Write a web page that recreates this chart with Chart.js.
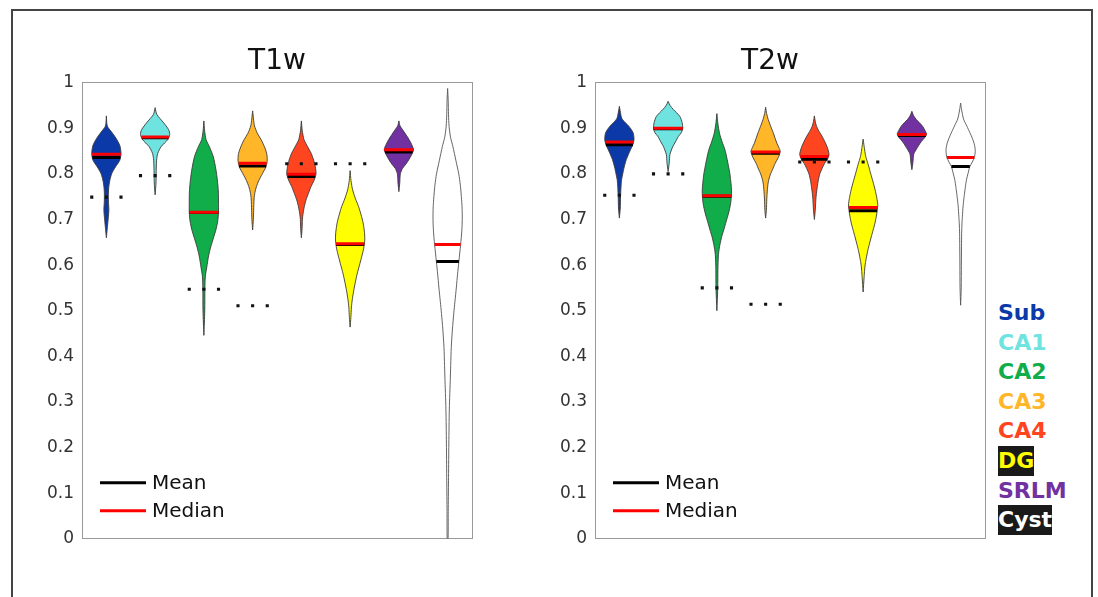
<!DOCTYPE html>
<html>
<head>
<meta charset="utf-8">
<script src="https://cdn.jsdelivr.net/npm/chart.js@4.4.1/dist/chart.umd.min.js"></script>
<style>
html, body { margin: 0; padding: 0; background: #fff; }
body { width: 1098px; height: 597px; position: relative; overflow: hidden; font-family: "DejaVu Sans", sans-serif; }
#frame { position: absolute; left: 11px; top: 9px; width: 1078px; height: 640px; border: 2px solid #444; border-bottom: none; }
.panel { position: absolute; top: 20px; width: 440px; height: 537px; }
#p1 { left: 42px; }
#p2 { left: 555px; }
#groups { position: absolute; left: 998px; top: 298px; font: bold 22px "DejaVu Sans", sans-serif; }
#groups div { height: 29.6px; line-height: 30px; white-space: nowrap; }
#groups span.box { background: #1a1a1a; display: inline-block; height: 30px; }
</style>
</head>
<body>
<div id="frame"></div>
<div class="panel" id="p1"><canvas id="c1"></canvas></div>
<div class="panel" id="p2"><canvas id="c2"></canvas></div>
<div id="groups"></div>
<script>
// Violin plots of per-subfield scores, T1w vs T2w.

const categories = ['Sub', 'CA1', 'CA2', 'CA3', 'CA4', 'DG', 'SRLM', 'Cyst'];
const yTickLabels = ['0', '0.1', '0.2', '0.3', '0.4', '0.5', '0.6', '0.7', '0.8', '0.9', '1'];
const legendNames = ['Mean', 'Median'];

// mean / median / reference (dotted) per category
const t1Mean   = [0.836, 0.879, 0.715, 0.817, 0.794, 0.645, 0.848, 0.608];
const t1Median = [0.843, 0.881, 0.716, 0.823, 0.799, 0.647, 0.853, 0.645];
const t1Ref    = [0.749, 0.796, 0.547, 0.511, 0.822, 0.822, null, null];
const t2Mean   = [0.864, 0.899, 0.751, 0.845, 0.832, 0.719, 0.884, 0.816];
const t2Median = [0.870, 0.900, 0.752, 0.848, 0.838, 0.726, 0.886, 0.836];
const t2Ref    = [0.753, 0.800, 0.550, 0.514, 0.826, 0.826, null, null];

// violin outlines: [value, relative half-width]
const t1Sub  = [[0.927,0],[0.905,0.06],[0.892,0.35],[0.878,0.66],[0.862,0.92],[0.845,1],[0.83,0.92],[0.815,0.62],[0.80,0.36],[0.78,0.2],[0.76,0.14],[0.74,0.14],[0.72,0.17],[0.70,0.12],[0.68,0.06],[0.66,0]];
const t1CA1  = [[0.945,0],[0.93,0.12],[0.912,0.58],[0.897,0.92],[0.886,1],[0.875,0.86],[0.86,0.42],[0.845,0.18],[0.83,0.1],[0.80,0.07],[0.78,0.06],[0.754,0]];
const t1CA2  = [[0.916,0],[0.895,0.05],[0.875,0.15],[0.86,0.37],[0.838,0.64],[0.81,0.82],[0.787,0.92],[0.76,0.99],[0.735,1],[0.716,1],[0.695,0.94],[0.677,0.82],[0.66,0.66],[0.64,0.47],[0.62,0.32],[0.596,0.2],[0.575,0.1],[0.55,0.07],[0.5,0.06],[0.446,0]];
const t1CA3  = [[0.938,0],[0.92,0.06],[0.905,0.13],[0.889,0.32],[0.875,0.58],[0.86,0.8],[0.845,0.96],[0.83,1],[0.815,0.91],[0.80,0.66],[0.785,0.42],[0.772,0.26],[0.76,0.16],[0.745,0.1],[0.72,0.07],[0.70,0.05],[0.677,0]];
const t1CA4  = [[0.916,0],[0.895,0.06],[0.875,0.18],[0.86,0.42],[0.845,0.67],[0.83,0.84],[0.816,0.95],[0.80,1],[0.786,0.87],[0.772,0.66],[0.757,0.48],[0.743,0.32],[0.728,0.2],[0.714,0.12],[0.70,0.07],[0.68,0.05],[0.66,0]];
const t1DG   = [[0.807,0],[0.785,0.06],[0.765,0.17],[0.745,0.37],[0.728,0.58],[0.71,0.75],[0.692,0.89],[0.672,0.98],[0.655,1],[0.637,0.93],[0.618,0.79],[0.60,0.64],[0.582,0.49],[0.563,0.36],[0.545,0.25],[0.525,0.15],[0.508,0.09],[0.485,0.05],[0.464,0]];
const t1SRLM = [[0.916,0],[0.905,0.08],[0.897,0.25],[0.886,0.48],[0.875,0.7],[0.864,0.88],[0.853,1],[0.842,0.87],[0.831,0.68],[0.82,0.45],[0.812,0.25],[0.80,0.1],[0.78,0.06],[0.761,0]];
const t1Cyst = [[0.987,0],[0.96,0.04],[0.93,0.06],[0.904,0.1],[0.88,0.2],[0.86,0.36],[0.83,0.56],[0.80,0.76],[0.775,0.87],[0.75,0.94],[0.725,0.99],[0.70,1],[0.675,0.97],[0.645,0.89],[0.608,0.77],[0.58,0.68],[0.552,0.6],[0.52,0.5],[0.494,0.42],[0.46,0.33],[0.42,0.25],[0.38,0.21],[0.347,0.18],[0.31,0.14],[0.274,0.11],[0.2,0.08],[0.127,0.06],[0.06,0.04],[0,0.03]];

const t2Sub  = [[0.948,0],[0.935,0.07],[0.922,0.16],[0.913,0.38],[0.904,0.66],[0.89,0.94],[0.875,1],[0.864,0.92],[0.853,0.76],[0.842,0.61],[0.831,0.47],[0.815,0.33],[0.80,0.23],[0.787,0.15],[0.77,0.11],[0.75,0.08],[0.725,0.06],[0.703,0]];
const t2CA1  = [[0.959,0],[0.95,0.13],[0.941,0.36],[0.926,0.8],[0.912,0.96],[0.90,1],[0.89,0.9],[0.882,0.7],[0.87,0.5],[0.86,0.32],[0.85,0.2],[0.842,0.12],[0.825,0.08],[0.805,0]];
const t2CA2  = [[0.932,0],[0.91,0.07],[0.889,0.18],[0.87,0.36],[0.853,0.55],[0.835,0.68],[0.816,0.8],[0.80,0.89],[0.787,0.94],[0.77,0.99],[0.757,1],[0.735,0.94],[0.714,0.8],[0.695,0.63],[0.677,0.47],[0.662,0.33],[0.648,0.23],[0.634,0.15],[0.62,0.1],[0.59,0.07],[0.55,0.06],[0.5,0]];
const t2CA3  = [[0.946,0],[0.932,0.07],[0.919,0.18],[0.904,0.35],[0.889,0.53],[0.877,0.66],[0.867,0.77],[0.858,0.9],[0.849,1],[0.836,0.87],[0.823,0.65],[0.81,0.48],[0.80,0.34],[0.79,0.24],[0.78,0.17],[0.765,0.12],[0.745,0.08],[0.72,0.05],[0.703,0]];
const t2CA4  = [[0.927,0],[0.915,0.06],[0.904,0.15],[0.893,0.32],[0.882,0.53],[0.87,0.72],[0.86,0.86],[0.85,0.96],[0.842,1],[0.832,0.89],[0.823,0.7],[0.812,0.53],[0.80,0.37],[0.786,0.27],[0.772,0.2],[0.757,0.14],[0.743,0.1],[0.72,0.06],[0.70,0]];
const t2DG   = [[0.876,0],[0.86,0.07],[0.838,0.18],[0.82,0.35],[0.80,0.52],[0.782,0.68],[0.765,0.82],[0.748,0.93],[0.732,1],[0.712,0.93],[0.692,0.81],[0.674,0.66],[0.655,0.5],[0.636,0.35],[0.618,0.23],[0.605,0.16],[0.596,0.12],[0.575,0.07],[0.541,0]];
const t2SRLM = [[0.937,0],[0.928,0.11],[0.919,0.3],[0.912,0.52],[0.904,0.74],[0.895,0.9],[0.887,1],[0.879,0.87],[0.871,0.65],[0.862,0.46],[0.853,0.29],[0.847,0.18],[0.842,0.12],[0.825,0.07],[0.809,0]];
const t2Cyst = [[0.955,0],[0.94,0.07],[0.92,0.2],[0.905,0.42],[0.889,0.65],[0.878,0.8],[0.867,0.92],[0.858,0.98],[0.849,1],[0.836,0.94],[0.826,0.8],[0.816,0.63],[0.80,0.5],[0.787,0.4],[0.77,0.32],[0.75,0.24],[0.73,0.17],[0.706,0.12],[0.69,0.09],[0.67,0.07],[0.64,0.06],[0.6,0.05],[0.55,0.04],[0.512,0]];

const fillColors = ['#0b3aa8', '#6ee3e0', '#10ad4a', '#ffb629', '#ff4420', '#ffff00', '#7131a1', '#ffffff'];
const textColors = ['#0b3aa8', '#6ee3e0', '#10ad4a', '#ffb629', '#ff4420', '#ffff00', '#7131a1', '#ffffff'];
const boxedLabels = ['DG', 'Cyst'];

const FONT = '"DejaVu Sans", sans-serif';
const HALF = 0.3; // max half-width of a violin, in category units

// half-width of a profile at value v (linear between read points)
function widthAt(profile, v) {
    for (let k = 0; k < profile.length - 1; k++) {
        const [y0, w0] = profile[k], [y1, w1] = profile[k + 1];
        if (v <= y0 && v >= y1) {
            const t = (y0 - v) / (y0 - y1 || 1);
            return w0 + (w1 - w0) * t;
        }
    }
    return 0;
}

function buildDatasets(shapes, means, medians, refs) {
    const sets = [];
    shapes.forEach((p, i) => {
        const right = p.map(([y, w]) => ({ x: i + w * HALF, y }));
        const left = p.slice().reverse().map(([y, w]) => ({ x: i - w * HALF, y }));
        sets.push({
            label: categories[i],
            data: right.concat(left),
            showLine: true,
            fill: 'shape',
            backgroundColor: fillColors[i],
            borderColor: i === 7 ? '#555' : '#3a3a3a',
            borderWidth: 0.9,
            pointRadius: 0,
            tension: 0.25,
            order: 3,
        });
    });
    [[means, '#000000', 2], [medians, '#ff0000', 1]].forEach(([vals, col, ord]) => {
        vals.forEach((v, i) => {
            const w = widthAt(shapes[i], v) * HALF;
            sets.push({
                data: [{ x: i - w, y: v }, { x: i + w, y: v }],
                showLine: true,
                borderColor: col,
                borderWidth: 3,
                pointRadius: 0,
                order: ord,
            });
        });
    });
    const dots = [];
    refs.forEach((r, i) => {
        if (r === null) return;
        [-HALF, 0, HALF].forEach(dx => dots.push({ x: i + dx, y: r }));
    });
    sets.push({
        data: dots,
        pointStyle: 'rect',
        pointRadius: 2.2,
        pointBorderWidth: 0,
        backgroundColor: '#111',
        borderColor: '#111',
        order: 0,
    });
    return sets;
}

const statLegend = {
    id: 'statLegend',
    afterDraw(chart) {
        const { ctx, chartArea } = chart;
        const cols = ['#000000', '#ff0000'];
        ctx.save();
        legendNames.forEach((name, k) => {
            const y = chartArea.bottom - 56 + k * 28;
            ctx.strokeStyle = cols[k];
            ctx.lineWidth = 3;
            ctx.beginPath();
            ctx.moveTo(chartArea.left + 18, y);
            ctx.lineTo(chartArea.left + 64, y);
            ctx.stroke();
            ctx.fillStyle = '#111';
            ctx.font = '20px ' + FONT;
            ctx.textBaseline = 'middle';
            ctx.fillText(name, chartArea.left + 70, y + 1);
        });
        ctx.restore();
    },
};

function edgeAxis(position, horizontal) {
    return {
        type: 'linear',
        position,
        min: horizontal ? -0.5 : 0,
        max: horizontal ? 7.5 : 1,
        ticks: { display: false },
        grid: { display: false, drawTicks: false },
        border: { display: true, color: '#999', width: 1 },
        afterFit(s) { if (horizontal) s.height = 0; else s.width = 0; },
    };
}

function makeChart(id, title, shapes, means, medians, refs, fullTitle) {
    return new Chart(document.getElementById(id), {
        type: 'scatter',
        data: { datasets: buildDatasets(shapes, means, medians, refs) },
        options: {
            responsive: true,
            maintainAspectRatio: false,
            animation: false,
            layout: { padding: { left: 0, right: 10, top: 0, bottom: 14 } },
            plugins: {
                legend: { display: false },
                tooltip: { enabled: false },
                title: {
                    display: true,
                    text: title,
                    fullSize: fullTitle,
                    color: '#111',
                    font: { size: 28, family: FONT, weight: 'normal' },
                    padding: { top: 25, bottom: 4 },
                },
            },
            scales: {
                x: edgeAxis('bottom', true),
                xTop: edgeAxis('top', true),
                yRight: edgeAxis('right', false),
                y: {
                    min: 0,
                    max: 1,
                    position: 'left',
                    ticks: {
                        stepSize: 0.1,
                        padding: 8,
                        color: '#333',
                        font: { size: 17, family: FONT },
                        callback: (v, i) => yTickLabels[i],
                    },
                    grid: { display: false, drawTicks: false },
                    border: { display: true, color: '#999', width: 1 },
                    afterFit(s) { s.width = 40; },
                },
            },
        },
        plugins: [statLegend],
    });
}

makeChart('c1', 'T1w', [t1Sub, t1CA1, t1CA2, t1CA3, t1CA4, t1DG, t1SRLM, t1Cyst], t1Mean, t1Median, t1Ref, false);
makeChart('c2', 'T2w', [t2Sub, t2CA1, t2CA2, t2CA3, t2CA4, t2DG, t2SRLM, t2Cyst], t2Mean, t2Median, t2Ref, true);

// subfield colour key
const groups = document.getElementById('groups');
categories.forEach((name, i) => {
    const row = document.createElement('div');
    const span = document.createElement('span');
    span.textContent = name;
    span.style.color = textColors[i];
    if (boxedLabels.includes(name)) span.className = 'box';
    row.appendChild(span);
    groups.appendChild(row);
});
</script>
</body>
</html>
